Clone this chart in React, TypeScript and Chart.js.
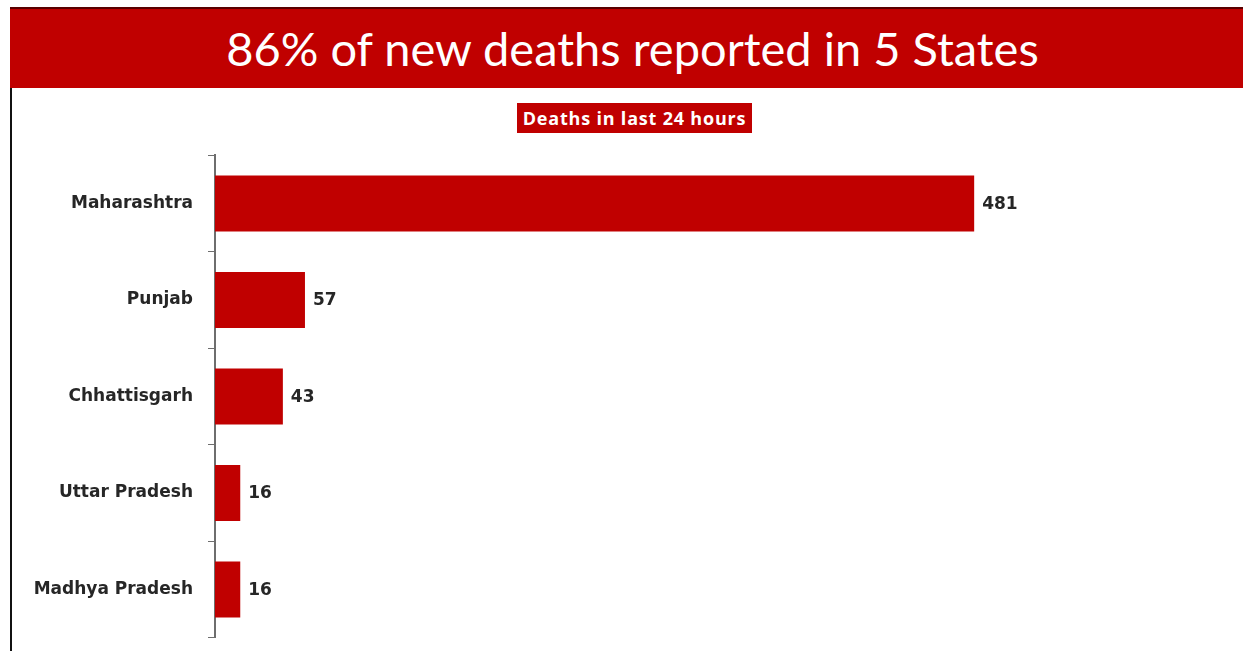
import React, { useEffect, useRef } from "react";
import { Chart, registerables } from "chart.js";

Chart.register(...registerables);

const titleText = "86% of new deaths reported in 5 States";
const subtitleText = "Deaths in last 24 hours";
const states = ["Maharashtra", "Punjab", "Chhattisgarh", "Uttar Pradesh", "Madhya Pradesh"];
const deaths = [481, 57, 43, 16, 16];

const RED = "#C00000";
const LABEL_FONT = "'DejaVu Sans', sans-serif";

const valueLabels = {
  id: "valueLabels",
  afterDatasetsDraw(chart: any) {
    const ctx = chart.ctx;
    const meta = chart.getDatasetMeta(0);
    ctx.save();
    ctx.font = "bold 17px 'DejaVu Sans'";
    ctx.fillStyle = "#262626";
    ctx.textAlign = "left";
    ctx.textBaseline = "middle";
    meta.data.forEach((bar: any, i: number) => {
      ctx.fillText(String(chart.data.datasets[0].data[i]), bar.x + 8, bar.y + 1);
    });
    ctx.restore();
  },
};

export default function App() {
  const ref = useRef<HTMLCanvasElement | null>(null);
  useEffect(() => {
    document.body.style.margin = "0";
    const chart = new Chart(ref.current as HTMLCanvasElement, {
      type: "bar",
      data: {
        labels: states,
        datasets: [
          {
            data: deaths,
            backgroundColor: RED,
            borderWidth: 0,
            categoryPercentage: 0.58,
            barPercentage: 1,
          },
        ],
      },
      options: {
        indexAxis: "y",
        animation: false,
        responsive: false,
        maintainAspectRatio: false,
        layout: { padding: { top: 0, bottom: 0, left: 0, right: 81 } },
        plugins: { legend: { display: false }, tooltip: { enabled: false }, title: { display: false } },
        scales: {
          x: { display: false, min: 0, max: 600 },
          y: {
            afterFit(scale: any) {
              scale.width = 203;
            },
            grid: {
              offset: true,
              drawOnChartArea: false,
              drawTicks: true,
              tickLength: 7,
              color: "#6e6e6e",
            },
            border: { display: true, color: "#6e6e6e", width: 2 },
            ticks: {
              padding: 15,
              color: "#262626",
              font: { family: LABEL_FONT, weight: "bold", size: 17 },
            },
          },
        },
      },
      plugins: [valueLabels],
    });
    return () => chart.destroy();
  }, []);

  return (
    <div style={{ position: "relative", width: 1243, height: 651, background: "#fff", overflow: "hidden" }}>
      <div
        style={{
          position: "absolute",
          left: 10,
          top: 7,
          width: 1233,
          height: 81,
          background: RED,
          borderTop: "2px solid #5a0000",
          boxSizing: "border-box",
          color: "#fff",
        }}
      >
        <span
          style={{
            position: "absolute",
            left: 0,
            width: 1245,
            textAlign: "center",
            top: 0,
            fontFamily: "Lato, 'Open Sans', sans-serif",
            fontSize: 47,
            lineHeight: "78px",
            whiteSpace: "nowrap",
          }}
        >
          {titleText}
        </span>
      </div>
      <div style={{ position: "absolute", left: 10, top: 88, width: 2, height: 563, background: "#111" }} />
      <div
        style={{
          position: "absolute",
          left: 517,
          top: 103,
          width: 235,
          height: 30,
          background: RED,
          color: "#fff",
          fontFamily: "'Open Sans', sans-serif",
          fontWeight: 700,
          fontSize: 18,
          letterSpacing: 0.8,
          lineHeight: "30px",
          textAlign: "center",
          whiteSpace: "nowrap",
        }}
      >
        {subtitleText}
      </div>
      <canvas
        ref={ref}
        width={1231}
        height={533}
        style={{ position: "absolute", left: 12, top: 130, width: 1231, height: 533 }}
      />
    </div>
  );
}
